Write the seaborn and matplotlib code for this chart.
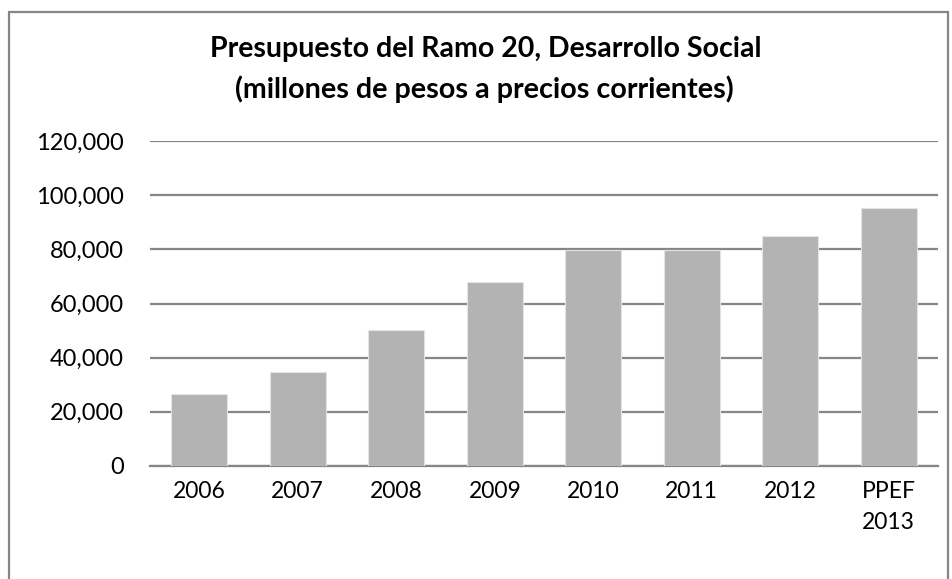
import matplotlib
matplotlib.use("Agg")
import matplotlib.pyplot as plt
import seaborn as sns
import pandas as pd
from matplotlib.patches import Rectangle
from matplotlib.ticker import FuncFormatter

categories = ["2006", "2007", "2008", "2009", "2010", "2011", "2012", "PPEF\n2013"]
values = [26700, 34800, 50200, 67900, 79800, 79800, 84800, 95100]
yticks = [0, 20000, 40000, 60000, 80000, 100000, 120000]
title_line1 = "Presupuesto del Ramo 20, Desarrollo Social"
title_line2 = "(millones de pesos a precios corrientes)"

sns.set_theme(style="white")
plt.rcParams["font.family"] = ["Lato", "DejaVu Sans"]

W, H = 952, 579
fig = plt.figure(figsize=(W / 100, H / 100), dpi=100)
left, right, top, bottom = 150, 938, 141, 466
ax = fig.add_axes([left / W, 1 - bottom / H, (right - left) / W, (bottom - top) / H])

df = pd.DataFrame({"cat": categories, "val": values})
sns.barplot(data=df, x="cat", y="val", ax=ax, color="#b3b3b3", saturation=1,
            width=0.57, edgecolor="#e3e3e3", linewidth=0.8, zorder=3)

ax.set_ylim(0, 120000)
ax.set_yticks(yticks)
ax.yaxis.set_major_formatter(FuncFormatter(lambda v, p: f"{int(v):,}"))
ax.grid(axis="y", color="#868686", linewidth=1.6, zorder=0)
ax.set_axisbelow(True)
for s in ["top", "right", "left"]:
    ax.spines[s].set_visible(False)
ax.spines["bottom"].set_color("#868686")
ax.spines["bottom"].set_linewidth(1.6)
ax.set_xlabel("")
ax.set_ylabel("")

ax.tick_params(axis="y", length=0, pad=19, labelsize=17, labelcolor="#000000")
ax.tick_params(axis="x", length=0, pad=11, labelsize=16.5, labelcolor="#000000")
for t in ax.get_xticklabels():
    t.set_linespacing(1.55)
    t.set_verticalalignment("top")

t1 = fig.text(486 / W, 1 - 57 / H, title_line1, ha="center", va="baseline",
              fontsize=17, fontweight="bold", color="#000000")
t2 = fig.text(484 / W, 1 - 98 / H, title_line2, ha="center", va="baseline",
              fontsize=17, fontweight="bold", color="#000000")

# fit title widths to the reference pixel widths
fig.canvas.draw()
r = fig.canvas.get_renderer()
for t, target in [(t1, 552), (t2, 500)]:
    w = t.get_window_extent(renderer=r).width
    t.set_fontsize(t.get_fontsize() * target / w)

fig.patches.append(Rectangle((9 / W, -0.1), (948 - 9) / W, 1.1 - 12 / H,
                             transform=fig.transFigure, fill=False,
                             edgecolor="#868686", linewidth=1.6))

fig.savefig("out.png", dpi=100, facecolor="white")
